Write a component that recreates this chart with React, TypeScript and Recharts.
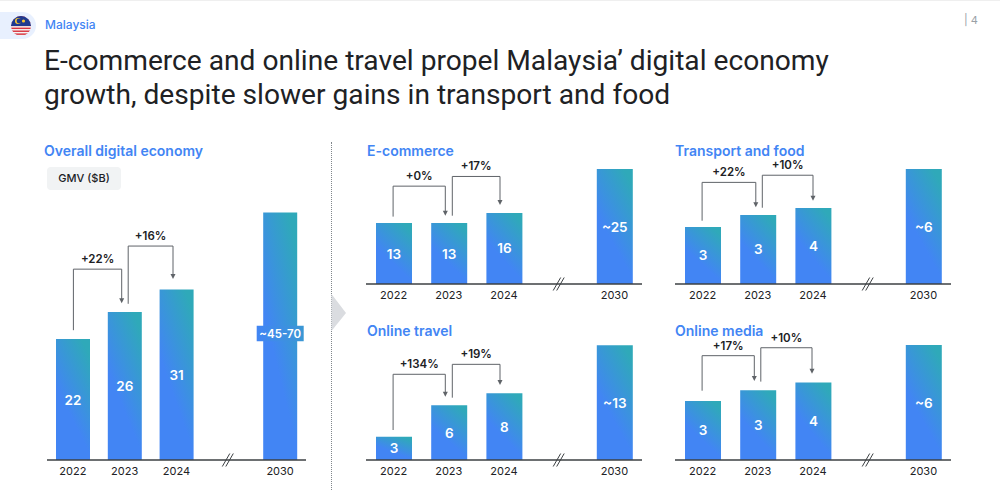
import React from 'react'
import { BarChart, Bar, XAxis, YAxis, LabelList, ReferenceLine } from 'recharts'

const FONT = 'Inter, Roboto, Arial, sans-serif'
const BLUE = '#4285f4'
const INK = '#202124'
const LINE = '#5f6368'

const years = ['2022', '2023', '2024', ' ', '2030']

// plotted heights, labels are what the slide prints
const overallValues = [22, 26.9, 31, null, 45]
const overallLabels = ['22', '26', '31', null, '~45-70']
const ecommerceValues = [13.2, 13.2, 15.4, null, 24.9]
const ecommerceLabels = ['13', '13', '16', null, '~25']
const transportValues = [2.95, 3.57, 3.93, null, 5.94]
const transportLabels = ['3', '3', '4', null, '~6']
const travelValues = [2.7, 6.4, 7.8, null, 13.4]
const travelLabels = ['3', '6', '8', null, '~13']
const mediaValues = [3.05, 3.6, 4.0, null, 5.94]
const mediaLabels = ['3', '3', '4', null, '~6']

type Bracket = { from: string; to: string; start: number; top: number; tip: number; label: string; dxFrom: number; dxTo: number }

const overallBrackets: Bracket[] = [
  { from: '2022', to: '2023', start: 23.6, top: 34.7, tip: 28.5, label: '+22%', dxFrom: 0.5, dxTo: -3 },
  { from: '2023', to: '2024', start: 28.4, top: 38.9, tip: 32.9, label: '+16%', dxFrom: 3.5, dxTo: -3.5 },
]
const ecommerceBrackets: Bracket[] = [
  { from: '2022', to: '2023', start: 14.6, top: 21.2, tip: 14.8, label: '+0%', dxFrom: -0.5, dxTo: -3.5 },
  { from: '2023', to: '2024', start: 14.8, top: 23.3, tip: 17.1, label: '+17%', dxFrom: 3.5, dxTo: -4 },
]
const transportBrackets: Bracket[] = [
  { from: '2022', to: '2023', start: 3.27, top: 5.25, tip: 3.96, label: '+22%', dxFrom: -0.5, dxTo: -2 },
  { from: '2023', to: '2024', start: 3.94, top: 5.62, tip: 4.3, label: '+10%', dxFrom: 4.5, dxTo: 0 },
]
const travelBrackets: Bracket[] = [
  { from: '2022', to: '2023', start: 3.5, top: 10, tip: 7.39, label: '+134%', dxFrom: -0.5, dxTo: -3.5 },
  { from: '2023', to: '2024', start: 7.27, top: 11.16, tip: 8.75, label: '+19%', dxFrom: 3.5, dxTo: -4 },
]
const mediaBrackets: Bracket[] = [
  { from: '2022', to: '2023', start: 3.58, top: 5.39, tip: 4.08, label: '+17%', dxFrom: -0.5, dxTo: -3.5 },
  { from: '2023', to: '2024', start: 4.05, top: 5.8, tip: 4.46, label: '+10%', dxFrom: 3, dxTo: -1 },
]

function BarLabel(props: any) {
  const { x, y, width, height, value } = props
  if (value == null) return null
  const cx = x + width / 2
  const cy = y + height / 2
  const wide = String(value).length > 4
  return (
    <g>
      {wide && <rect x={cx - 23.5} y={cy - 10.5} width={47} height={15.5} fill="url(#labelBox)" />}
      <text x={cx} y={wide ? cy - 2.7 : cy} textAnchor="middle" dominantBaseline="central" fill="#fff"
        fontFamily={FONT} fontSize={wide ? 11.5 : 13.5} fontWeight={600}>{value}</text>
    </g>
  )
}

function bracketLines(list: Bracket[]) {
  return list.map(b => (
    <React.Fragment key={b.label + b.from}>
      <ReferenceLine segment={[{ x: b.from, y: b.start }, { x: b.to, y: b.top }]}
        shape={(p: any) => (
          <g>
            <path d={`M${p.x1 + b.dxFrom} ${p.y1}V${p.y2}H${p.x2 + b.dxTo}`} fill="none" stroke={LINE} strokeWidth={1} />
            <text x={(p.x1 + b.dxFrom + p.x2 + b.dxTo) / 2} y={p.y2 - 10} textAnchor="middle" dominantBaseline="central"
              fill={INK} fontFamily={FONT} fontSize={11.5} fontWeight={600}>{b.label}</text>
          </g>
        )} />
      <ReferenceLine segment={[{ x: b.to, y: b.top }, { x: b.to, y: b.tip }]}
        shape={(p: any) => {
          const ax = p.x1 + b.dxTo
          return (
            <g>
              <path d={`M${ax} ${p.y1}V${p.y2 - 4}`} fill="none" stroke={LINE} strokeWidth={1} />
              <path d={`M${ax - 2.5} ${p.y2 - 5}H${ax + 2.5}L${ax} ${p.y2}Z`} fill={LINE} />
            </g>
          )
        }} />
    </React.Fragment>
  ))
}

type PanelProps = {
  left: number; baseline: number; band: number; barSize: number; plotHeight: number
  domainMax: number; values: (number | null)[]; labels: (string | null)[]; brackets: Bracket[]
}

function Panel({ left, baseline, band, barSize, plotHeight, domainMax, values, labels, brackets }: PanelProps) {
  const data = years.map((year, i) => ({ year, value: values[i], label: labels[i] }))
  const marginTop = 24
  const axisHeight = 24
  const height = plotHeight + marginTop + axisHeight
  return (
    <div style={{ position: 'absolute', left, top: baseline - plotHeight - marginTop }}>
      <BarChart width={band * 5} height={height} data={data} barSize={barSize}
        margin={{ top: marginTop, right: 0, bottom: 0, left: 0 }}>
        <defs>
          <linearGradient id="barFill" x1="0.4" y1="0.62" x2="0.75" y2="0">
            <stop offset="0" stopColor={BLUE} />
            <stop offset="1" stopColor="#2fa9b9" />
          </linearGradient>
          <linearGradient id="labelBox" x1="0" y1="0" x2="1" y2="0">
            <stop offset="0" stopColor={BLUE} />
            <stop offset="1" stopColor="#3a97d4" />
          </linearGradient>
        </defs>
        <XAxis dataKey="year" interval={0} height={axisHeight} tickLine={false} tickMargin={1}
          axisLine={{ stroke: '#3c4043', strokeWidth: 1.5 }}
          tick={{ fontSize: 11, fill: INK, fontFamily: FONT }} />
        <YAxis hide domain={[0, domainMax]} />
        <Bar dataKey="value" fill="url(#barFill)" isAnimationActive={false}>
          <LabelList dataKey="label" content={BarLabel} />
        </Bar>
        {bracketLines(brackets)}
        <ReferenceLine segment={[{ x: ' ', y: 0 }, { x: ' ', y: 0 }]}
          shape={(p: any) => (
            <g stroke="#3c4043" strokeWidth={1}>
              <path d={`M${p.x1 - 6} ${p.y1 + 6.5}L${p.x1 + 1.5} ${p.y1 - 6.5}`} />
              <path d={`M${p.x1 - 2.5} ${p.y1 + 6.5}L${p.x1 + 5} ${p.y1 - 6.5}`} />
            </g>
          )} />
      </BarChart>
    </div>
  )
}

function SectionTitle({ left, top, text }: { left: number; top: number; text: string }) {
  return (
    <div style={{ position: 'absolute', left, top, fontSize: 14, lineHeight: '18px', fontWeight: 600, color: BLUE, whiteSpace: 'nowrap' }}>
      {text}
    </div>
  )
}

function Flag() {
  const stripes = [0, 1, 2, 3, 4, 5, 6]
  return (
    <svg width={20} height={20} viewBox="0 0 20 20" style={{ position: 'absolute', left: 10.5, top: 15.5 }}>
      <defs>
        <clipPath id="flagCircle"><circle cx={10} cy={10} r={10} /></clipPath>
      </defs>
      <g clipPath="url(#flagCircle)">
        <rect width={20} height={20} fill="#f4f4f4" />
        {stripes.map(i => <rect key={i} y={i * 2.9} width={20} height={1.45} fill="#d8343f" />)}
        <rect width={20} height={10} fill="#1f3a8f" />
        <circle cx={7} cy={5} r={3} fill="#f7c531" />
        <circle cx={8} cy={5} r={2.4} fill="#1f3a8f" />
        <circle cx={12.5} cy={5} r={1.6} fill="#f7c531" />
      </g>
    </svg>
  )
}

export default function App() {
  return (
    <div style={{ position: 'absolute', left: 0, top: 0, width: 1000, height: 499, overflow: 'hidden', background: '#fff', fontFamily: FONT }}>
      <div style={{ position: 'absolute', left: 0, top: 0, width: 1000, height: 1, background: '#efefef' }} />
      <div style={{ position: 'absolute', left: 0, top: 12, width: 36, height: 27, background: '#e8f0fe', borderRadius: '0 14px 14px 0' }} />
      <Flag />
      <div style={{ position: 'absolute', left: 45, top: 16, fontSize: 12, lineHeight: '18px', fontWeight: 500, color: BLUE }}>Malaysia</div>
      <div style={{ position: 'absolute', left: 964, top: 12, fontSize: 11, lineHeight: '16px', color: '#9aa0a6' }}>| 4</div>

      <div style={{ position: 'absolute', left: 44, top: 44, fontFamily: 'Roboto, Arial, sans-serif', fontSize: 28.15, lineHeight: '34px', color: INK, whiteSpace: 'nowrap' }}>
        E-commerce and online travel propel Malaysia’ digital economy<br />
        growth, despite slower gains in transport and food
      </div>

      <SectionTitle left={44} top={142} text="Overall digital economy" />
      <SectionTitle left={367} top={142} text="E-commerce" />
      <SectionTitle left={675} top={142} text="Transport and food" />
      <SectionTitle left={367} top={322} text="Online travel" />
      <SectionTitle left={675} top={322} text="Online media" />

      <div style={{ position: 'absolute', left: 47, top: 167, width: 74, height: 23, lineHeight: '23px', textAlign: 'center', background: '#f1f3f4', borderRadius: 4, fontSize: 11, fontWeight: 500, color: INK }}>
        GMV ($B)
      </div>

      <div style={{ position: 'absolute', left: 331, top: 142, height: 348, borderLeft: '1px dotted #80868b' }} />
      <svg width={16} height={38} style={{ position: 'absolute', left: 331, top: 294 }}>
        <path d="M0.5 0L15 19L0.5 37Z" fill="#dadce0" />
      </svg>

      <Panel left={46.5} baseline={460} band={51.8} barSize={34} plotHeight={275} domainMax={50}
        values={overallValues} labels={overallLabels} brackets={overallBrackets} />
      <Panel left={366} baseline={284} band={55.2} barSize={36} plotHeight={120} domainMax={26}
        values={ecommerceValues} labels={ecommerceLabels} brackets={ecommerceBrackets} />
      <Panel left={675} baseline={284} band={55.2} barSize={36} plotHeight={120} domainMax={6.2}
        values={transportValues} labels={transportLabels} brackets={transportBrackets} />
      <Panel left={366} baseline={460} band={55.2} barSize={36} plotHeight={120} domainMax={14}
        values={travelValues} labels={travelLabels} brackets={travelBrackets} />
      <Panel left={675} baseline={460} band={55.2} barSize={36} plotHeight={120} domainMax={6.2}
        values={mediaValues} labels={mediaLabels} brackets={mediaBrackets} />
    </div>
  )
}
